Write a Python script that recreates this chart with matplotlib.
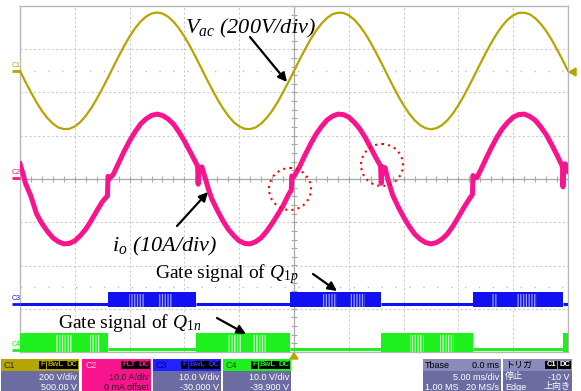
import numpy as np
import matplotlib.pyplot as plt
from matplotlib.patches import Rectangle, Ellipse, Polygon

plt.rcParams['mathtext.fontset'] = 'custom'
plt.rcParams['mathtext.rm'] = 'Liberation Serif'
plt.rcParams['mathtext.it'] = 'Liberation Serif:italic'
plt.rcParams['mathtext.default'] = 'it'
plt.rcParams['hatch.linewidth'] = 0.9

# ---- data (time in ms, 5 ms/div, trigger at centre) ----
# C1: grid voltage Vac [V], sampled every 0.5 ms from -25 to 25 ms
vac = [0, -51, -99, -145, -185, -218, -244, -262, -269, -268, -257, -237, -208,
       -172, -130, -83, -34, 17, 67, 115, 159, 197, 228, 251, 265, 270, 265, 251,
       228, 197, 159, 115, 67, 17, -34, -83, -130, -172, -208, -237, -257, -268,
       -269, -262, -244, -218, -185, -145, -99, -51,
       0, 51, 99, 145, 185, 218, 244, 262, 269, 268, 257, 237, 208, 172, 130, 83,
       34, -17, -67, -115, -159, -197, -228, -251, -265, -270, -265, -251, -228,
       -197, -159, -115, -67, -17, 34, 83, 130, 172, 208, 237, 257, 268, 269, 262,
       244, 218, 185, 145, 99, 51, 0]
vac_t = np.linspace(-25, 25, len(vac))

# C2: output current io [A]
io_t = [-25.0, -24.7, -24.5, -24.0, -23.5, -23.0, -22.5, -22.0, -21.5, -21.0,
        -20.5, -20.0, -19.5, -19.0, -18.5, -18.0, -17.5, -17.2, -17.02, -16.97,
        -16.85, -16.5, -16.0, -15.5, -15.0, -14.5, -14.0, -13.5, -13.0, -12.5,
        -12.0, -11.5, -11.0, -10.5, -10.0, -9.5, -9.0, -8.8, -8.74, -8.66, -8.4,
        -8.1, -7.8, -7.5, -7.0, -6.5, -6.0, -5.5, -5.0, -4.5, -4.0, -3.5, -3.0,
        -2.5, -2.0, -1.5, -1.0, -0.5, -0.25, -0.2, -0.1, 0.0, 0.5, 1.0, 1.5, 2.0,
        2.5, 3.0, 3.5, 4.0, 4.5, 5.0, 5.5, 6.0, 6.5, 7.0, 7.5, 7.9, 7.96, 8.04,
        8.3, 8.6, 9.0, 9.5, 10.0, 10.5, 11.0, 11.5, 12.0, 12.5, 13.0, 13.5, 14.0,
        14.5, 15.0, 15.5, 16.0, 16.28, 16.33, 16.45, 16.7, 17.0, 17.5, 18.0, 18.5,
        19.0, 19.5, 20.0, 20.5, 21.0, 21.5, 22.0, 22.5, 23.0, 23.5, 24.0, 24.4,
        24.5, 24.54, 24.6, 24.75, 25.0]
io = [3.5, 1.0, -1.0, -4.0, -8.0, -10.3, -12.1, -13.6, -14.5, -15.0,
      -14.9, -14.3, -13.1, -11.6, -9.6, -7.4, -5.3, -4.4, -3.9, 0.6,
      0.1, 1.0, 3.7, 6.4, 8.8, 10.9, 12.7, 13.9, 14.7, 15.0,
      14.7, 13.9, 12.7, 10.9, 8.8, 6.4, 4.0, 3.0, -1.2, 2.6, 2.8,
      0.2, -2.4, -4.6, -7.2, -9.6, -11.6, -13.1, -14.3, -14.9, -15.0, -14.5, -13.6,
      -12.1, -10.3, -8.3, -6.2, -3.6, -2.6, 0.7, 0.3, 0.6, 2.8, 5.5, 8.0, 10.3,
      12.1, 13.6, 14.5, 15.0, 14.9, 14.3, 13.1, 11.6, 9.6, 7.2, 4.8, 3.0, -1.0, 2.8,
      2.6, -0.4, -3.7, -6.4, -8.8, -10.9, -12.7, -13.9, -14.7, -15.0, -14.7, -13.9, -12.7,
      -10.9, -8.8, -6.6, -4.6, -3.6, 0.8, 0.2, 0.4, 1.9, 4.6, 7.2, 9.6,
      11.6, 13.1, 14.3, 14.9, 15.0, 14.5, 13.6, 12.1, 10.3, 8.0, 5.5, 3.4,
      2.9, -1.8, 3.0, 3.5, 1.8]

# C3 / C4: gate signals of Q1p and Q1n (switching edges in ms, 1 = switching)
gate_edges = [-25, -17.0, -8.9, -0.4, 7.95, 16.3, 24.5, 25]
q1p_state = [0, 1, 0, 1, 0, 1, 0]
q1n_state = [1, 0, 1, 0, 1, 0, 1]
# lighter stripes inside the switching bands (start, end) in ms
q1p_stripes = [(-15.1, -13.7), (-12.4, -11.0), (2.55, 3.9), (5.1, 6.5),
               (18.1, 18.5), (20.3, 22.2)]
q1n_stripes = [(-21.8, -20.3), (-18.6, -17.7), (-6.1, -4.7), (-3.8, -2.5),
               (10.6, 11.9), (13.3, 14.6)]

# channel settings: volts/div and offset in divisions
C1_SCALE, C1_POS = 200.0, 2.5
C2_SCALE, C2_POS = 10.0, 0.0
C3_SCALE, C3_POS = 10.0, -3.0
C4_SCALE, C4_POS = 10.0, -3.99

OLIVE = '#b4a500'
PINK = '#f8148c'
BLUE = '#1010f0'
GREEN = '#1ef01e'

W, H = 581, 391
fig = plt.figure(figsize=(W / 100, H / 100), dpi=100)
fig.patch.set_facecolor('white')

# scope screen 10 x 8 div
L, T, R, B = 20, 6, 568, 352
ax = fig.add_axes([L / W, 1 - B / H, (R - L) / W, (B - T) / H])
ax.set_xlim(-25, 25)
ax.set_ylim(-4, 4)
ax.set_xticks([])
ax.set_yticks([])
for s in ax.spines.values():
    s.set_color('#b8b8b8')
    s.set_linewidth(1.0)

for x in range(-20, 25, 5):
    if x == 0:
        ax.axvline(x, color='#a8a8a8', lw=0.9)
    else:
        ax.axvline(x, color='#cccccc', lw=0.8, ls=(0, (2, 2)))
for y in range(-3, 4):
    if y == 0:
        ax.axhline(y, color='#a8a8a8', lw=0.9)
    else:
        ax.axhline(y, color='#cccccc', lw=0.8, ls=(0, (2, 2)))
for y in (2.5, -2.5):
    ax.axhline(y, color='#bdbdbd', lw=1.0, ls=(0, (1, 9)))
ticks_x = np.arange(-25, 25.01, 1.0)
ticks_y = np.arange(-4, 4.01, 0.2)
ax.plot(ticks_x, np.zeros_like(ticks_x), '|', ms=5, color='#a8a8a8', mew=0.8)
ax.plot(np.zeros_like(ticks_y), ticks_y, '_', ms=5, color='#a8a8a8', mew=0.8)

# traces
ax.plot(vac_t, np.array(vac) / C1_SCALE + C1_POS, color=OLIVE, lw=1.6, zorder=5)
ax.plot(io_t, np.array(io) / C2_SCALE + C2_POS, color=PINK, lw=3.6, zorder=5)


def gate(states, scale, pos, lo, hi, low_lvl, col, stripes, stripe_col):
    for i, st in enumerate(states):
        t0, t1 = gate_edges[i], gate_edges[i + 1]
        if st:
            ax.fill_between([t0, t1], lo / scale + pos, hi / scale + pos,
                            color=col, lw=0, zorder=4)
        else:
            ax.plot([t0, t1], [low_lvl / scale + pos] * 2, color=col, lw=2.2,
                    zorder=4, solid_capstyle='butt')
    for a, b in stripes:
        ax.fill_between([a, b], lo / scale + pos, (hi - 0.4) / scale + pos,
                        facecolor='none', hatch='||||||', edgecolor=stripe_col,
                        lw=0, zorder=4.5)


gate(q1p_state, C3_SCALE, C3_POS, 0.4, 3.9, 1.0, BLUE, q1p_stripes, '#9a9cff')
gate(q1n_state, C4_SCALE, C4_POS, 0.0, 4.3, 0.6, GREEN, q1n_stripes, '#c8ffc8')

# ---- overlay in pixel coordinates ----
ov = fig.add_axes([0, 0, 1, 1], zorder=10)
ov.set_xlim(0, W)
ov.set_ylim(H, 0)
ov.axis('off')

for lab, y, col in [('C1', 71, OLIVE), ('C2', 178, PINK), ('C3', 304, BLUE),
                    ('C4', 350, GREEN)]:
    ov.text(16.5, y - 2, lab, fontsize=5, color=col, ha='center', va='bottom',
            family='Liberation Sans')
    ov.plot([12, 20], [y, y], color=col, lw=2, solid_capstyle='butt')

ov.add_patch(Polygon([(569, 72), (576, 68), (576, 76)], color=OLIVE))
ov.add_patch(Polygon([(294, 353), (290, 359), (298, 359)], color=OLIVE))

serif = 'Liberation Serif'
ov.text(185, 33, r'$V_{ac}$ (200V/div)', fontsize=16, family=serif,
        style='italic', va='baseline')
ov.text(112, 251, r'$i_o$ (10A/div)', fontsize=16, family=serif,
        style='italic', va='baseline')
ov.text(155, 278, r'Gate signal of $Q_{1p}$', fontsize=14, family=serif,
        va='baseline')
ov.text(58, 328, r'Gate signal of $Q_{1n}$', fontsize=14, family=serif,
        va='baseline')
arrow = dict(arrowstyle='-|>', color='black', lw=1.6, mutation_scale=13,
             shrinkA=0, shrinkB=0)
ov.annotate('', xy=(287, 82), xytext=(250, 37), arrowprops=arrow)
ov.annotate('', xy=(208, 192), xytext=(177, 226), arrowprops=arrow)
ov.annotate('', xy=(337, 291), xytext=(313, 274), arrowprops=arrow)
ov.annotate('', xy=(246, 334), xytext=(217, 318), arrowprops=arrow)

for cx, cy in [(290, 189), (382, 165)]:
    ov.add_patch(Ellipse((cx, cy), 42, 42, fill=False, ec='red', lw=1.5,
                         ls=(0, (1, 2))))

# ---- bottom status panel ----
BODY = '#6c6ca2'
HEAD = '#8a8abb'
sans = 'Liberation Sans'


def tag(x, y, text, fg):
    ov.text(x, y, text, fontsize=5.5, color=fg, family=sans, ha='right',
            va='center', weight='bold',
            bbox=dict(boxstyle='square,pad=0.12', fc='black', ec='none'))


def box(x0, x1, head, label, label_col, tags, tag_col, lines, text_col, body=BODY):
    ov.add_patch(Rectangle((x0, 371), x1 - x0, 20, color=body, lw=0))
    ov.add_patch(Rectangle((x0, 359), x1 - x0, 12, color=head, lw=0))
    ov.text(x0 + 3, 365, label, fontsize=6.5, color=label_col, family=sans,
            va='center')
    xr = x1 - 2
    for t in reversed(tags):
        tag(xr, 365, t, tag_col)
        xr -= 5.2 * len(t) + 3
    ov.text(x1 - 2, 377, lines[0], fontsize=6.5, color=text_col, family=sans,
            ha='right', va='center')
    ov.text(x1 - 2, 387, lines[1], fontsize=6.5, color=text_col, family=sans,
            ha='right', va='center')


box(1, 79, OLIVE, 'C1', '#3a3300', ['F', 'BwL', 'DC'], OLIVE,
    ['200 V/div', '500.00 V'], 'white')
box(82, 151, PINK, 'C2', '#ffd0ea', ['FLT', 'DC'], PINK,
    ['10.0 A/div', '0 mA offset'], '#202020', body=PINK)
box(153, 221, '#2222ff', 'C3', '#0000a0', ['F', 'BwL', 'DC'], '#3030ff',
    ['10.0 V/div', '-30.000 V'], 'white')
box(223, 291, GREEN, 'C4', '#006000', ['F', 'BwL', 'DC'], GREEN,
    ['10.0 V/div', '-39.900 V'], 'white')

# timebase box
ov.add_patch(Rectangle((423, 359), 78, 32, color=BODY, lw=0))
ov.add_patch(Rectangle((423, 359), 78, 12, color=HEAD, lw=0))
ov.text(425, 365, 'Tbase', fontsize=6.5, color='black', family=sans, va='center')
ov.text(499, 365, '0.0 ms', fontsize=6.5, color='black', family=sans,
        ha='right', va='center')
ov.text(499, 377, '5.00 ms/div', fontsize=6.5, color='white', family=sans,
        ha='right', va='center')
ov.text(425, 387, '1.00 MS', fontsize=6.5, color='white', family=sans, va='center')
ov.text(499, 387, '20 MS/s', fontsize=6.5, color='white', family=sans,
        ha='right', va='center')

# trigger box
jp = ['Noto Sans CJK JP', 'DejaVu Sans']
ov.add_patch(Rectangle((503, 359), 69, 32, color=BODY, lw=0))
ov.add_patch(Rectangle((503, 359), 69, 12, color=HEAD, lw=0))
ov.text(505, 365, 'トリガ', fontsize=6.5, color='black', family=jp, va='center')
tag(570, 365, 'DC', 'white')
tag(556, 365, 'C1', 'white')
ov.text(505, 377, '停止', fontsize=6.5, color='white', family=jp, va='center')
ov.text(570, 377, '-10 V', fontsize=6.5, color='white', family=sans,
        ha='right', va='center')
ov.text(505, 387, 'Edge', fontsize=6.5, color='white', family=sans, va='center')
ov.text(570, 387, '上向き', fontsize=6.5, color='white', family=jp,
        ha='right', va='center')

fig.savefig('out.png', dpi=100)
